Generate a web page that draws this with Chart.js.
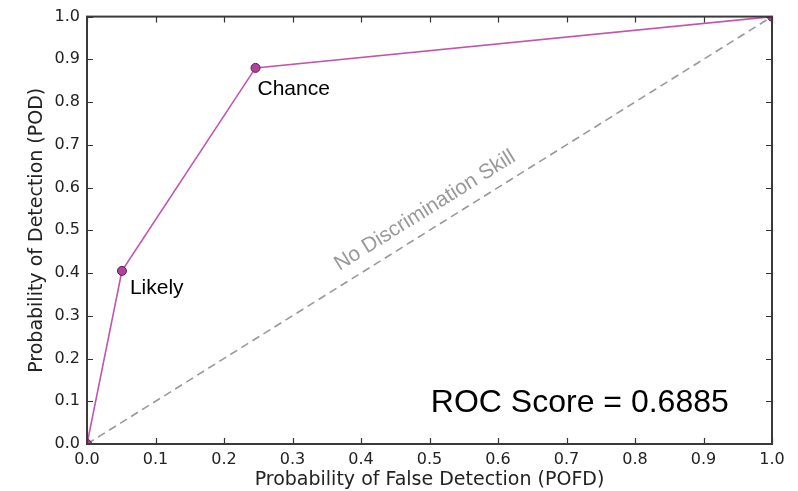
<!DOCTYPE html>
<html>
<head>
<meta charset="utf-8">
<script src="https://cdn.jsdelivr.net/npm/chart.js@4.4.1/dist/chart.umd.min.js"></script>
<style>
  html, body { margin: 0; padding: 0; background: #fff; }
  #wrap { width: 798px; height: 491px; }
</style>
</head>
<body>
<div id="wrap"><canvas id="rocChart" width="798" height="491"></canvas></div>
<script>
// ROC curve points (POFD, POD)
const pofd = [0, 0.051, 0.246, 1];
const pod = [0, 0.405, 0.880, 1];
const pointNames = ["", "Likely", "Chance", ""];

// no-skill diagonal
const diagX = [0, 1];
const diagY = [0, 1];

const tickValues = [0, 0.1, 0.2, 0.3, 0.4, 0.5, 0.6, 0.7, 0.8, 0.9, 1.0];
const diagLabel = "No Discrimination Skill";
const scoreLabel = "ROC Score = 0.6885";

const sansFont = "'Liberation Sans', Arial, sans-serif";
const axisFont = "'DejaVu Sans', sans-serif";

// box + inward ticks on all 4 sides, matplotlib style
const frameTicks = {
    id: "frameTicks",
    afterDraw(chart) {
        const { ctx, chartArea: a, scales } = chart;
        const len = 6;
        ctx.save();
        ctx.strokeStyle = "#333";
        ctx.lineWidth = 1.2;
        tickValues.forEach(v => {
            const x = Math.round(scales.x.getPixelForValue(v)) + 0.5;
            const y = Math.round(scales.y.getPixelForValue(v)) + 0.5;
            ctx.beginPath();
            ctx.moveTo(x, a.bottom); ctx.lineTo(x, a.bottom - len);
            ctx.moveTo(x, a.top); ctx.lineTo(x, a.top + len);
            ctx.moveTo(a.left, y); ctx.lineTo(a.left + len, y);
            ctx.moveTo(a.right, y); ctx.lineTo(a.right - len, y);
            ctx.stroke();
        });
        ctx.lineWidth = 2;
        ctx.strokeStyle = "#3a3a3a";
        ctx.strokeRect(a.left, a.top, a.right - a.left, a.bottom - a.top);
        ctx.restore();
    }
};

// text annotations
const annotations = {
    id: "annotations",
    afterDatasetsDraw(chart) {
        const { ctx, scales } = chart;
        ctx.save();

        // point names
        ctx.fillStyle = "#000";
        ctx.font = "21px " + sansFont;
        ctx.textAlign = "left";
        ctx.textBaseline = "alphabetic";
        pointNames.forEach((name, i) => {
            if (!name) return;
            const px = scales.x.getPixelForValue(pofd[i]);
            const py = scales.y.getPixelForValue(pod[i]);
            if (name === "Chance") ctx.fillText(name, px + 2, py + 27);
            else ctx.fillText(name, px + 8, py + 23);
        });

        // diagonal label
        const x0 = scales.x.getPixelForValue(diagX[0]), y0 = scales.y.getPixelForValue(diagY[0]);
        const x1 = scales.x.getPixelForValue(diagX[1]), y1 = scales.y.getPixelForValue(diagY[1]);
        const ang = Math.atan2(y1 - y0, x1 - x0);
        const cx = scales.x.getPixelForValue(0.508);
        const cy = scales.y.getPixelForValue(0.508);
        ctx.translate(cx, cy);
        ctx.rotate(ang);
        ctx.fillStyle = "#999";
        ctx.font = "21px " + sansFont;
        ctx.textAlign = "center";
        ctx.textBaseline = "middle";
        ctx.fillText(diagLabel, 0, -19);
        ctx.setTransform(1, 0, 0, 1, 0, 0);

        // score
        ctx.fillStyle = "#000";
        ctx.font = "32px " + sansFont;
        ctx.textAlign = "left";
        ctx.textBaseline = "alphabetic";
        ctx.fillText(scoreLabel, scales.x.getPixelForValue(0.502), scales.y.getPixelForValue(0.075));
        ctx.restore();
    }
};

const ctx = document.getElementById("rocChart").getContext("2d");
new Chart(ctx, {
    type: "scatter",
    data: {
        datasets: [
            {
                label: "ROC",
                data: pofd.map((x, i) => ({ x, y: pod[i] })),
                showLine: true,
                borderColor: "#c354ad",
                borderWidth: 1.6,
                pointRadius: 4.5,
                pointBackgroundColor: "#b0449c",
                pointBorderColor: "#5a1a4e",
                pointBorderWidth: 1,
                tension: 0
            },
            {
                label: "No skill",
                data: diagX.map((x, i) => ({ x, y: diagY[i] })),
                showLine: true,
                borderColor: "#999",
                borderWidth: 1.6,
                borderDash: [8, 5],
                pointRadius: 0
            }
        ]
    },
    options: {
        responsive: false,
        animation: false,
        events: [],
        layout: { padding: { left: 0, top: 14, right: 26, bottom: 0 } },
        plugins: { legend: { display: false }, tooltip: { enabled: false } },
        scales: {
            x: {
                type: "linear",
                min: 0, max: 1,
                afterFit: s => { s.height = 47; },
                afterBuildTicks: s => { s.ticks = tickValues.map(v => ({ value: v })); },
                grid: { display: false, drawTicks: false },
                border: { display: false },
                ticks: {
                    color: "#222",
                    padding: 6,
                    maxRotation: 0,
                    font: { family: axisFont, size: 16 },
                    callback: v => v.toFixed(1)
                },
                title: {
                    display: true,
                    text: "Probability of False Detection (POFD)",
                    color: "#222",
                    font: { family: axisFont, size: 19 },
                    padding: { top: 0, bottom: 0 }
                }
            },
            y: {
                type: "linear",
                min: 0, max: 1,
                afterFit: s => { s.width = 87; },
                afterBuildTicks: s => { s.ticks = tickValues.map(v => ({ value: v })); },
                grid: { display: false, drawTicks: false },
                border: { display: false },
                ticks: {
                    color: "#222",
                    padding: 7,
                    font: { family: axisFont, size: 16 },
                    callback: v => v.toFixed(1)
                },
                title: {
                    display: true,
                    text: "Probability of Detection (POD)",
                    color: "#222",
                    font: { family: axisFont, size: 19 },
                    padding: { top: 26, bottom: 0 }
                }
            }
        }
    },
    plugins: [frameTicks, annotations]
});
</script>
</body>
</html>
